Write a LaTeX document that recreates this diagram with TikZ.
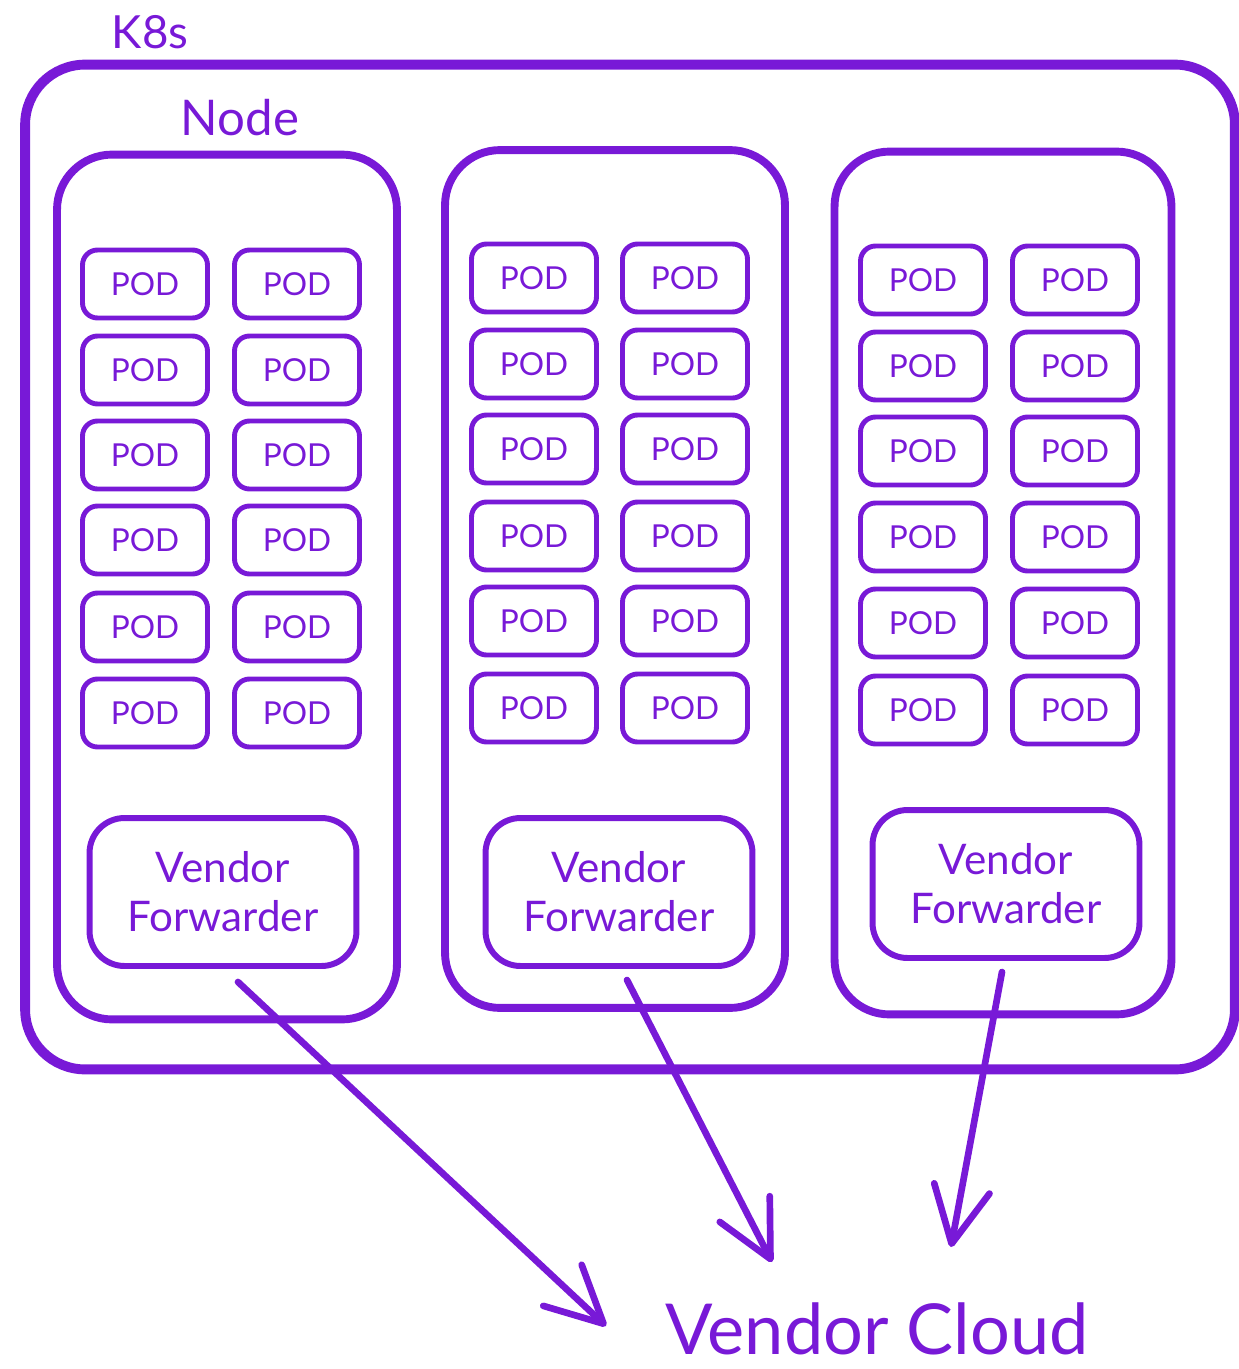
\documentclass[tikz,border=0pt]{standalone}
\usepackage{fontspec}
\setmainfont{Lato}
\usetikzlibrary{arrows.meta}
\definecolor{violet}{RGB}{120,25,215}
\tikzset{
  px/.style={x=0.02cm,y=-0.02cm},
  cluster/.style={draw=violet,line width=5.6pt,rounded corners=1.2cm,
    minimum width=24.2cm,minimum height=20.1cm,inner sep=0pt},
  worker/.style={draw=violet,line width=4.5pt,rounded corners=1.1cm,
    minimum width=6.8cm,minimum height=17.3cm,inner sep=0pt},
  podbox/.style={draw=violet,line width=2.8pt,rounded corners=0.3cm,
    minimum width=2.5cm,minimum height=1.36cm,inner sep=0pt,
    text=violet,font=\fontsize{18}{20}\selectfont},
  fwd/.style={draw=violet,line width=3.4pt,rounded corners=0.7cm,
    minimum width=5.34cm,minimum height=2.96cm,inner sep=0pt,align=center,
    text=violet,font=\fontsize{24}{28}\selectfont},
  flow/.style={draw=violet,line width=3.8pt,line cap=round,
    -{Straight Barb[length=32pt,width=32pt,line cap=round,line join=round]}},
  caption/.style={text=violet,inner sep=0pt}
}
\begin{document}
\begin{tikzpicture}[px]
\useasboundingbox (0,0) rectangle (1238,1369);

% cluster frame and its label
\node[cluster] (k8s) at (630,567) {};
\node[caption,font=\fontsize{26}{30}\selectfont] (k8slbl) at (150,32) {K8s};
\node[caption,font=\fontsize{28}{32}\selectfont] (nodelbl) at (240,118) {Node};

% worker nodes
\node[worker] (n1) at (227,587) {};
\node[worker,minimum height=17.16cm] (n2) at (615,579) {};
\node[worker,minimum width=6.74cm,minimum height=17.26cm] (n3) at (1003,583) {};

% pods, two columns of six per worker
\foreach \i/\y in {1/284,2/370,3/455,4/540,5/627,6/713}{
  \node[podbox] (p1a\i) at (145,\y) {POD};
  \node[podbox] (p1b\i) at (297,\y) {POD};
}
\foreach \i/\y in {1/278,2/364,3/449,4/536,5/621,6/708}{
  \node[podbox] (p2a\i) at (534,\y) {POD};
  \node[podbox] (p2b\i) at (685,\y) {POD};
}
\foreach \i/\y in {1/280,2/366,3/451,4/537,5/623,6/710}{
  \node[podbox] (p3a\i) at (923,\y) {POD};
  \node[podbox] (p3b\i) at (1075,\y) {POD};
}

% forwarders
\node[fwd] (vf1) at (223,892) {Vendor\\Forwarder};
\node[fwd] (vf2) at (619,892) {Vendor\\Forwarder};
\node[fwd] (vf3) at (1006,884) {Vendor\\Forwarder};

% destination
\node[caption,font=\fontsize{40}{44}\selectfont,anchor=base] (cloud) at (877,1354) {Vendor Cloud};

% connector end points
\coordinate (s1) at (238,982);
\coordinate (e1) at (606,1326);
\coordinate (s2) at (627,980);
\coordinate (e2) at (772,1262);
\coordinate (s3) at (1002,972);
\coordinate (e3) at (951,1247);

\draw[flow] (s1) -- (e1);
\draw[flow] (s2) -- (e2);
\draw[flow] (s3) -- (e3);
\end{tikzpicture}
\end{document}
